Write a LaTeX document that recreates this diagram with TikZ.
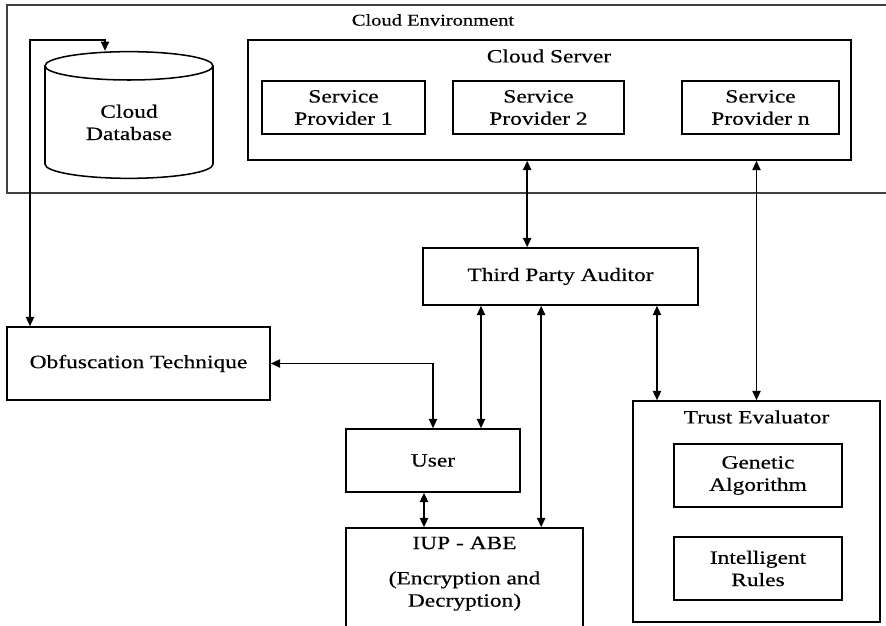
\documentclass[tikz,border=0pt]{standalone}
\usepackage{fontspec}
\setmainfont{Liberation Serif}[FakeStretch=1.25,FakeBold=0.4]
\usetikzlibrary{arrows.meta,shapes.geometric}

\begin{document}
\begin{tikzpicture}[
  x=0.03cm, y=-0.03cm,
  every node/.style={font=\fontsize{16}{19}\selectfont},
  box/.style={draw, rectangle, line width=1.3pt, inner sep=0pt, align=center},
  envbox/.style={draw=black!75, rectangle, line width=0.9pt, inner sep=0pt},
  dbshape/.style={draw, cylinder, shape border rotate=90, aspect=0.33, line width=1.3pt, inner sep=0pt, align=center},
  boxtitle/.style={inner sep=0pt},
  link/.style={line width=1.4pt, {Triangle[length=8pt,width=7pt]}-{Triangle[length=8pt,width=7pt]}}
]
\clip (0,0) rectangle (886,626);

\node[envbox, minimum width=26.79cm, minimum height=5.64cm] (env) at (453.5,99) {};
\node[boxtitle, font=\fontsize{14}{17}\selectfont] at (433,20) {Cloud Environment};

\node[box, minimum width=18.09cm, minimum height=3.6cm] (server) at (549.5,100) {};
\node[boxtitle] at (549,56) {Cloud Server};

\node[box, minimum width=4.89cm, minimum height=1.59cm] (sp1) at (343.5,107.5) {Service\\Provider 1};
\node[box, minimum width=5.13cm, minimum height=1.59cm] (sp2) at (538.5,107.5) {Service\\Provider 2};
\node[box, minimum width=4.71cm, minimum height=1.59cm] (spn) at (760.5,107.5) {Service\\Provider n};

\node[dbshape, minimum width=5.04cm, minimum height=3.8cm, anchor=shape center] (db) at (129,115) {Cloud\\Database};

\node[box, minimum width=7.89cm, minimum height=2.19cm] (obf) at (138.5,363.5) {Obfuscation Technique};
\node[box, minimum width=8.25cm, minimum height=1.71cm] (tpa) at (560.5,276.5) {Third Party Auditor};
\node[box, minimum width=5.22cm, minimum height=1.89cm] (user) at (433,460.5) {User};

\node[box, minimum width=7.11cm, minimum height=3.36cm] (iup) at (464.5,584) {};
\node[boxtitle] at (464.5,543) {IUP - ABE};
\node[boxtitle, align=center] at (464.5,591) {(Encryption and\\Decryption)};

\node[box, minimum width=7.41cm, minimum height=6.63cm] (trust) at (756.5,511.5) {};
\node[boxtitle] at (756.5,417) {Trust Evaluator};
\node[box, minimum width=5.04cm, minimum height=1.89cm] (ga) at (758,475.5) {Genetic\\Algorithm};
\node[box, minimum width=5.04cm, minimum height=1.89cm] (ir) at (758,568.5) {Intelligent\\Rules};

\coordinate (loop) at (30,40);
\coordinate (dbin) at (105,40);

\draw[link] (loop |- obf.north) -- (loop) -- (dbin) -- (dbin |- db.north);
\draw[link] (obf.east) -| (user.north);
\draw[link] ([xshift=1.44cm]user.north) -- ([xshift=1.44cm]user.north |- tpa.south);
\draw[link] ([xshift=2.3cm]iup.north) -- ([xshift=2.3cm]iup.north |- tpa.south);
\draw[link] ([xshift=-2.985cm]trust.north) -- ([xshift=-2.985cm]trust.north |- tpa.south);
\draw[link] ([xshift=-1.0cm]tpa.north) -- ([xshift=-1.0cm]tpa.north |- server.south);
\draw[link] (trust.north) -- (trust.north |- server.south);
\draw[link] ([xshift=-0.27cm]user.south) -- ([xshift=-0.27cm]user.south |- iup.north);

\end{tikzpicture}
\end{document}
